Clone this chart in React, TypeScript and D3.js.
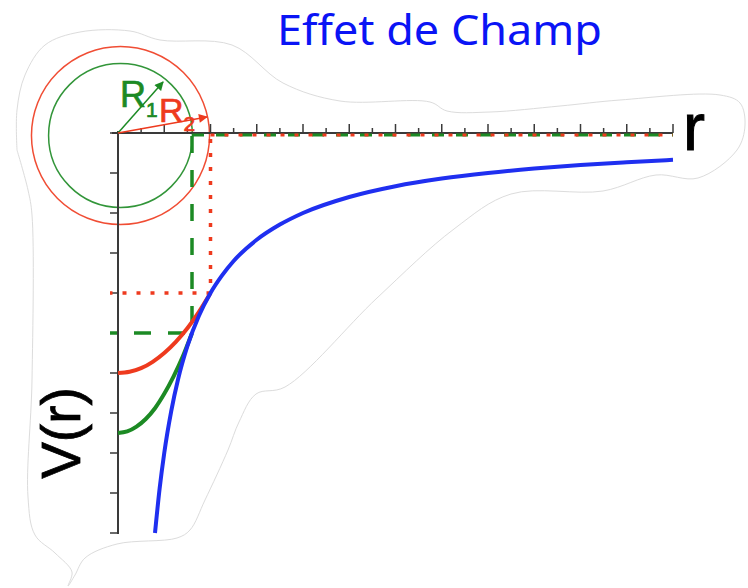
import React from "react";
import * as d3 from "d3";

// potential V(r) (r in tick units, V in tick units)
const blueR = [1.6, 1.8, 2, 2.3, 2.6, 3, 3.5, 4, 4.5, 5, 6, 7, 8, 10, 12, 14, 16, 18, 20, 22, 24];
const blueV = [-10, -8.89, -8, -6.96, -6.15, -5.33, -4.57, -4, -3.56, -3.2, -2.67, -2.29, -2, -1.6, -1.33, -1.14, -1, -0.89, -0.8, -0.73, -0.67];

// inside the big sphere (R2)
const redR = [0, 0.5, 1, 1.5, 2, 2.5, 3, 3.5, 4];
const redV = [-6, -5.97, -5.88, -5.72, -5.5, -5.22, -4.88, -4.47, -4];

// inside the small sphere (R1)
const greenR = [0, 0.4, 0.8, 1.2, 1.6, 2, 2.4, 2.8, 3.2];
const greenV = [-7.5, -7.46, -7.34, -7.15, -6.88, -6.52, -6.09, -5.59, -5];

const R1 = 3.2;
const R2 = 4;
const V1 = -5;
const V2 = -4;

const xTicks = d3.range(1, 25);
const yTicks = d3.range(0, -11, -1);

// faint paper outline behind the drawing
const outline: [number, number][] = [
  [17, 150], [17, 110], [25, 75], [45, 45], [80, 32], [130, 31], [160, 40], [232, 45],
  [283, 83], [340, 101], [430, 102], [447, 111], [490, 112], [560, 106], [620, 100],
  [720, 95], [740, 103], [745, 125], [737, 150], [698, 178], [656, 175], [603, 191],
  [511, 194], [454, 229], [377, 298], [285, 387], [256, 394], [239, 422], [228, 450],
  [205, 500], [190, 530], [177, 538], [117, 544], [85, 558], [75, 575], [68, 586],
  [72, 572], [55, 553], [35, 535], [28, 497], [32, 380], [32, 215], [28, 190], [17, 150],
];

const BLUE = "#1f2ff0";
const RED = "#ee3a1e";
const GREEN = "#1c8a24";
const AXIS = "#3a3a3a";
const SANS = "'Liberation Sans', Arial, sans-serif";

export default function App() {
  const width = 748;
  const height = 588;

  const x = d3.scaleLinear().domain([0, 24]).range([118, 673]);
  const y = d3.scaleLinear().domain([-10, 0]).range([533, 133]);

  const line = d3
    .line<[number, number]>()
    .x((d) => x(d[0]))
    .y((d) => y(d[1]))
    .curve(d3.curveMonotoneX);

  const zip = (a: number[], b: number[]) => a.map((v, i) => [v, b[i]] as [number, number]);

  const blob = d3.line().curve(d3.curveCatmullRom.alpha(0.5))(outline) || "";

  const x0 = x(0);
  const y0 = y(0);
  // circles sit a hair below/right of the origin in the original
  const cx = x0 + 2.5;
  const cy = y0 + 2.5;
  const unit = x(1) - x(0);

  // arrow tips
  const tip1 = [x(1.95), y0 - 51];
  const tip2 = [x(3.85), y0 - 16];

  return (
    <svg
      width={width}
      height={height}
      style={{ position: "absolute", left: 0, top: 0, background: "#ffffff" }}
    >
      <defs>
        <marker id="arrG" viewBox="0 0 10 10" refX="9" refY="5" markerWidth="11" markerHeight="9"
          markerUnits="userSpaceOnUse" orient="auto">
          <path d="M0,0 L10,5 L0,10 z" fill={GREEN} />
        </marker>
        <marker id="arrR" viewBox="0 0 10 10" refX="9" refY="5" markerWidth="11" markerHeight="9"
          markerUnits="userSpaceOnUse" orient="auto">
          <path d="M0,0 L10,5 L0,10 z" fill={RED} />
        </marker>
      </defs>

      <path d={blob} fill="#ffffff" stroke="#dcdcdc" strokeWidth={1} />

      <text x={277} y={45} fill="#0a14f5" fontFamily="'Noto Sans', 'Open Sans', sans-serif"
        fontSize={42} textLength={325} lengthAdjust="spacingAndGlyphs">
        Effet de Champ
      </text>

      {/* spheres */}
      <circle cx={cx} cy={cy} r={3.85 * unit} fill="none" stroke={RED} strokeWidth={1.5} opacity={0.9} />
      <circle cx={cx} cy={cy} r={3.11 * unit} fill="none" stroke={GREEN} strokeWidth={1.5} opacity={0.9} />

      {/* axes */}
      <line x1={112} x2={x(24)} y1={y0} y2={y0} stroke={AXIS} strokeWidth={2} />
      <line x1={x0} x2={x0} y1={y0 - 2} y2={y(-10) + 1} stroke={AXIS} strokeWidth={2} />
      {xTicks.map((t) => (
        <line key={"xt" + t} x1={x(t)} x2={x(t)} y1={y0} y2={y0 - (t % 2 === 0 ? 9 : 5)}
          stroke={AXIS} strokeWidth={1.5} />
      ))}
      {yTicks.map((t) => (
        <line key={"yt" + t} x1={x0} x2={x0 - 8} y1={y(t)} y2={y(t)} stroke={AXIS} strokeWidth={1.5} />
      ))}

      {/* radius arrows */}
      <line x1={x0} y1={y0} x2={tip1[0]} y2={tip1[1]} stroke={GREEN} strokeWidth={1.5} markerEnd="url(#arrG)" />
      <line x1={x0} y1={y0} x2={tip2[0]} y2={tip2[1]} stroke={RED} strokeWidth={1.5} markerEnd="url(#arrR)" />

      <text x={120} y={107} fill={GREEN} stroke={GREEN} strokeWidth={0.7} fontFamily={SANS} fontSize={36}>
        R<tspan dy={10} fontSize={21}>1</tspan>
      </text>
      <text x={159} y={122} fill={RED} stroke={RED} strokeWidth={0.7} fontFamily={SANS} fontSize={34}>
        R<tspan dy={9} fontSize={21}>2</tspan>
      </text>

      {/* reference lines at R1, R2 */}
      <path d={`M${x(R1)},${y0 + 3}V${y(V1)}H${x0 - 8}`} fill="none" stroke={GREEN}
        strokeWidth={3.5} strokeDasharray="17 17" />
      <path d={`M${x(R2)},${y0 + 6}V${y(V2)}H${x0 - 8}`} fill="none" stroke={RED}
        strokeWidth={3.5} strokeDasharray="4 10" />
      <line x1={x(R1)} x2={x(24)} y1={y0 + 2} y2={y0 + 2} stroke={GREEN} strokeWidth={3} strokeDasharray="12 12" />
      <line x1={x(R2)} x2={x(24)} y1={y0 + 2} y2={y0 + 2} stroke={RED} strokeWidth={3} strokeDasharray="4 10" />

      {/* curves */}
      <path d={line(zip(redR, redV)) || ""} fill="none" stroke={RED} strokeWidth={4} />
      <path d={line(zip(greenR, greenV)) || ""} fill="none" stroke={GREEN} strokeWidth={4} />
      <path d={line(zip(blueR, blueV)) || ""} fill="none" stroke={BLUE} strokeWidth={4} />

      {/* axis labels */}
      <text x={683} y={150} fontFamily={SANS} fontSize={66} fill="#000" stroke="#000" strokeWidth={1}>r</text>
      <text transform="translate(80,433) rotate(-90)" textAnchor="middle"
        fontFamily={SANS} fontSize={55} fill="#000" stroke="#000" strokeWidth={0.8}>V(r)</text>
    </svg>
  );
}
